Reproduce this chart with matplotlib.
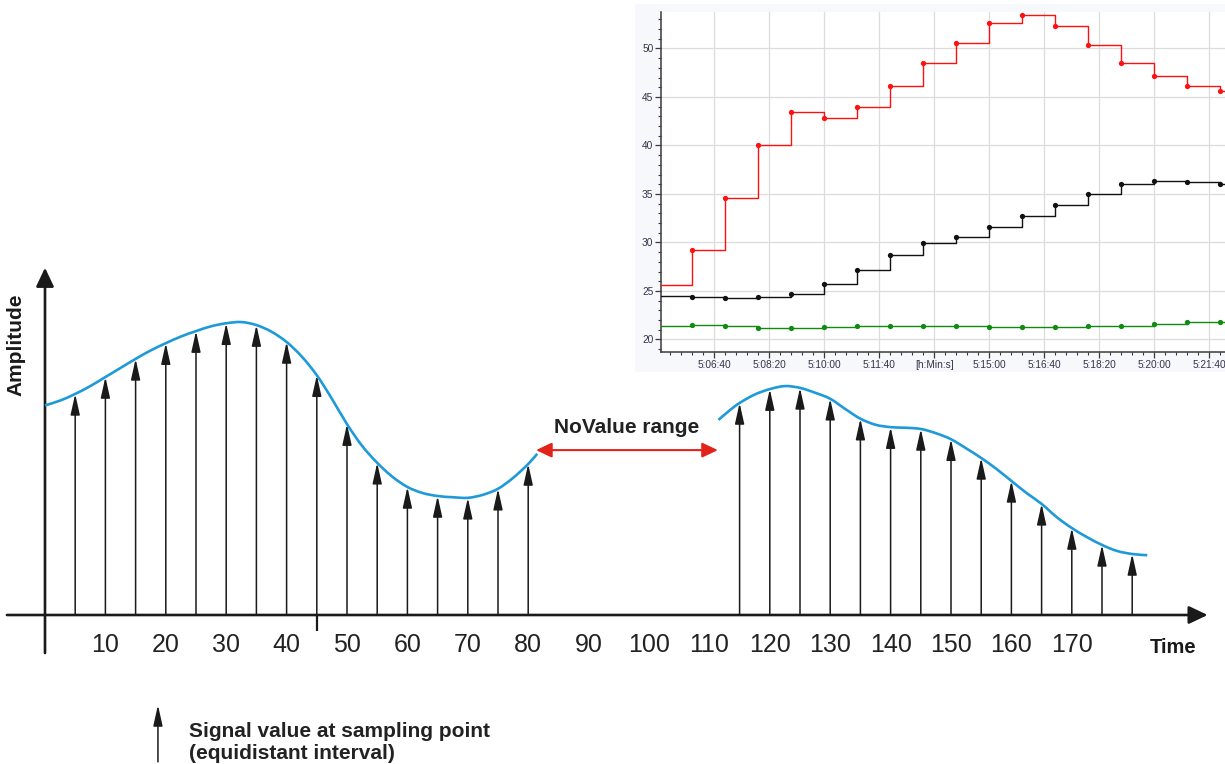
import matplotlib

matplotlib.use("Agg")
import matplotlib.pyplot as plt
import numpy as np
from matplotlib.patches import Rectangle, PathPatch
from matplotlib.path import Path
from matplotlib.ticker import MultipleLocator, FuncFormatter

plt.rcParams["font.family"] = ["Liberation Sans", "DejaVu Sans"]

# --- main diagram: continuous signal (blue) and its samples (arrows) ---
curve_left_t = [0, 2.5, 5, 7.5, 10, 12.5, 15, 17.5, 20, 22.5, 25, 27.5, 30, 32.5, 35, 37.5, 40,
                42.5, 45, 47.5, 50, 52.5, 55, 57.5, 60, 62.5, 65, 67.5, 70, 72.5, 75, 77.5, 80, 81.5]
curve_left_a = [34.7, 35.5, 36.6, 37.9, 39.4, 40.9, 42.4, 43.8, 45.0, 46.1, 47.0, 47.8, 48.3, 48.5,
                48.0, 46.9, 45.2, 42.8, 39.7, 35.8, 31.6, 28.0, 25.2, 22.9, 21.2, 20.2, 19.7, 19.5,
                19.4, 19.9, 20.9, 22.7, 25.0, 26.7]
curve_right_t = [111.5, 113.5, 115, 117.5, 120, 122.5, 125, 127.5, 130, 132.5, 135, 137.5, 140, 142.5, 145,
                 147.5, 150, 152.5, 155, 157.5, 160, 162.5, 165, 167.5, 170, 172.5, 175, 177.5, 180, 182.5]
curve_right_a = [32.3, 34.0, 35.1, 36.5, 37.4, 37.9, 37.6, 36.8, 35.8, 34.1, 32.5, 31.5, 31.1, 31.0, 30.8,
                 30.1, 29.1, 27.6, 26.0, 24.2, 22.2, 20.2, 18.4, 16.2, 14.4, 12.9, 11.6, 10.6, 10.1, 9.9]

sample_t = [5, 10, 15, 20, 25, 30, 35, 40, 45, 50, 55, 60, 65, 70, 75, 80,
            115, 120, 125, 130, 135, 140, 145, 150, 155, 160, 165, 170, 175, 180]
sample_v = [36.6, 39.4, 42.4, 45.0, 47.0, 48.3, 48.0, 45.2, 39.7, 31.6, 25.2, 21.2, 19.7, 19.4, 20.9, 25.0,
            35.1, 37.4, 37.6, 35.8, 32.5, 31.1, 30.8, 29.1, 26.0, 22.2, 18.4, 14.4, 11.6, 10.1]

time_ticks = [10, 20, 30, 40, 50, 60, 70, 80, 90, 100, 110, 120, 130, 140, 150, 160, 170]
novalue_start, novalue_end = 81.3, 111.4

# --- inset: logged values (seconds after 5:00:00), held until next sample ---
log_t = [300, 360, 420, 480, 540, 600, 660, 720, 780, 840, 900, 960, 1020, 1080, 1140, 1200, 1260, 1320]
log_red = [25.6, 29.26, 34.55, 40.01, 43.5, 42.81, 43.99, 46.17, 48.48, 50.56, 52.63, 53.46, 52.28,
           50.38, 48.48, 47.13, 46.17, 45.61]
log_black = [24.46, 24.36, 24.25, 24.36, 24.67, 25.67, 27.19, 28.75, 29.92, 30.58, 31.55, 32.72, 33.9,
             35.04, 36.04, 36.35, 36.28, 36.04]
log_green = [21.42, 21.49, 21.38, 21.14, 21.21, 21.28, 21.38, 21.38, 21.38, 21.38, 21.28, 21.28, 21.28,
             21.38, 21.38, 21.62, 21.8, 21.8]

W, H = 1225, 764
INK = "#1a1a1a"
BLUE = "#1e9ad8"
RED = "#e2231a"


def smooth_path(xs, ys):
    """Bezier path through the knots (Catmull-Rom tangents) so the signal looks continuous."""
    p = np.column_stack([xs, ys]).astype(float)
    ext = np.vstack([p[0], p, p[-1]])
    verts, codes = [p[0]], [Path.MOVETO]
    for i in range(len(p) - 1):
        c1 = ext[i + 1] + (ext[i + 2] - ext[i]) / 6
        c2 = ext[i + 2] - (ext[i + 3] - ext[i + 1]) / 6
        verts += [c1, c2, ext[i + 2]]
        codes += [Path.CURVE4] * 3
    return Path(verts, codes)


fig = plt.figure(figsize=(W / 100, H / 100), dpi=100)
ax = fig.add_axes([0, 0, 1, 1])
ax.set_xlim(-45 / 6.04, (W - 45) / 6.04)
ax.set_ylim(-149 / 6.04, (H - 149) / 6.04)
ax.axis("off")

# axes with arrowheads
axis_style = dict(arrowstyle="-|>,head_length=0.95,head_width=0.45", mutation_scale=12,
                  lw=1.9, color=INK, shrinkA=0, shrinkB=0)
ax.annotate("", xy=(192.5, 0), xytext=(-6.3, 0), arrowprops=axis_style)
ax.annotate("", xy=(0, 57.5), xytext=(0, -6.3), arrowprops=axis_style)
ax.plot([45, 45], [0, -2.65], color=INK, lw=1.6, solid_capstyle="butt")

# sample arrows
arrow_style = dict(arrowstyle="-|>,head_length=0.9,head_width=0.2", mutation_scale=14,
                   lw=1.1, color=INK, shrinkA=0, shrinkB=0)
for t, v in zip(sample_t, sample_v):
    ax.annotate("", xy=(t, v), xytext=(t, 0), arrowprops=arrow_style)

for xs, ys in [(curve_left_t, curve_left_a), (curve_right_t, curve_right_a)]:
    ax.add_patch(PathPatch(smooth_path(xs, ys), fill=False, edgecolor=BLUE, lw=1.9, zorder=3))

for t in time_ticks:
    ax.text(t, -4.95, str(t), ha="center", va="center", fontsize=18, color="#222222")

ax.text(186.8, -5.3, "Time", ha="center", va="center", fontsize=14.5, fontweight="bold", color=INK)
ax.text(-4.8, 44.7, "Amplitude", ha="center", va="center", rotation=90, fontsize=15,
        fontweight="bold", color=INK)

# NoValue range
ax.annotate("", xy=(novalue_end, 27.3), xytext=(novalue_start, 27.3),
            arrowprops=dict(arrowstyle="<|-|>,head_length=0.95,head_width=0.45", mutation_scale=10,
                            lw=1.5, color=RED, shrinkA=0, shrinkB=0))
ax.text((novalue_start + novalue_end) / 2, 31.1, "NoValue range", ha="center", va="center",
        fontsize=15, fontweight="bold", color="#222222")

# legend for the sample arrow
ax.annotate("", xy=(18.7, -14.9), xytext=(18.7, -24.3), arrowprops=arrow_style, annotation_clip=False)
ax.text(23.8, -20.2, "Signal value at sampling point", ha="left", va="baseline", fontsize=15,
        fontweight="bold", color="#222222")
ax.text(23.8, -23.8, "(equidistant interval)", ha="left", va="baseline", fontsize=15,
        fontweight="bold", color="#222222")

# --- inset chart ---
fig.add_artist(Rectangle((635 / W, 1 - 372 / H), (W - 635) / W, (372 - 4) / H,
                         transform=fig.transFigure, facecolor="#f6f8fc", edgecolor="none", zorder=-1))
ins = fig.add_axes([661 / W, 1 - 352 / H, (W - 661) / W, (352 - 12) / H])
ins.set_facecolor("white")
xmax = 1328.5
ins.set_xlim(303, xmax)
ins.set_ylim(18.71, 53.76)

for vals, col in [(log_red, "#ff1010"), (log_black, "#111111"), (log_green, "#108a10")]:
    ins.step(log_t, vals, where="post", color=col, lw=1.0, zorder=3)
    ins.hlines(vals[-1], log_t[-1], xmax, color=col, lw=1.0, zorder=3)
    ins.plot(log_t[1:], vals[1:], "o", color=col, ms=3.8, mec="none", zorder=4)

ins.xaxis.set_major_locator(MultipleLocator(100))
ins.xaxis.set_minor_locator(MultipleLocator(20))
ins.yaxis.set_major_locator(MultipleLocator(5))
ins.yaxis.set_minor_locator(MultipleLocator(1))


def hms(s, pos):
    s = int(round(s))
    if s == 800:
        return "[h:Min:s]"
    return f"5:{s // 60:02d}:{s % 60:02d}"


ins.xaxis.set_major_formatter(FuncFormatter(hms))
ins.grid(True, which="major", color="#dcdcdc", lw=0.9)
ins.set_axisbelow(True)
for side in ["top", "right"]:
    ins.spines[side].set_visible(False)
for side in ["left", "bottom"]:
    ins.spines[side].set_color("#3a3a3a")
    ins.spines[side].set_linewidth(1.1)
ins.tick_params(which="major", direction="out", length=4, width=0.9, color="#3a3a3a",
                labelsize=7.3, labelcolor="#33334a", pad=1.5)
ins.tick_params(which="minor", direction="out", length=2, width=0.8, color="#3a3a3a")

fig.savefig("out.png", dpi=100)
